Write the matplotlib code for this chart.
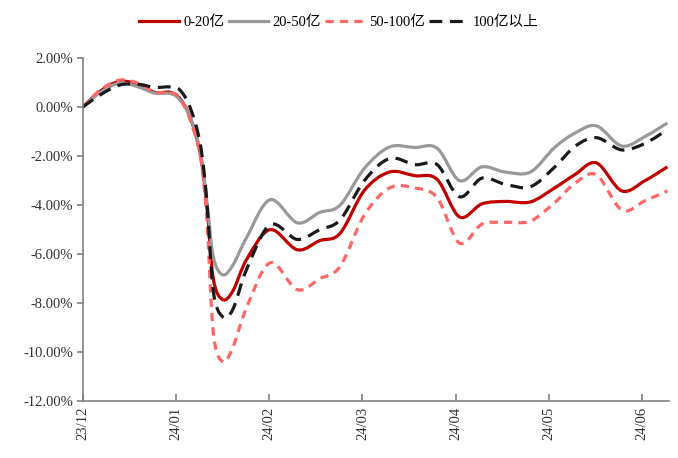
import matplotlib
matplotlib.use("Agg")
import matplotlib.pyplot as plt
from matplotlib.path import Path
from matplotlib.patches import PathPatch
from matplotlib.lines import Line2D
import numpy as np

plt.rcParams['font.family'] = ['Liberation Serif', 'Noto Sans CJK SC']

# x position in months after 23/12
t = [0.00, 0.19, 0.40, 0.61, 0.77, 0.94, 1.04, 1.15, 1.26, 1.33, 1.40, 1.50,
     1.61, 1.76, 2.01, 2.30, 2.54, 2.76, 3.02, 3.29, 3.56, 3.80, 4.04, 4.28, 4.53,
     4.80, 5.06, 5.28, 5.51, 5.78, 6.03, 6.27]

month_labels = ['23/12', '24/01', '24/02', '24/03', '24/04', '24/05', '24/06']

s_0_20 = [0, 0.65, 1.05, 0.90, 0.60, 0.60, 0.35, -0.40, -1.90, -4.00, -7.00, -7.85,
          -7.50, -6.20, -5.00, -5.82, -5.45, -5.15, -3.40, -2.65, -2.80, -2.95, -4.48, -3.95, -3.85,
          -3.87, -3.30, -2.75, -2.28, -3.42, -3.00, -2.44]
s_20_50 = [0, 0.60, 0.98, 0.80, 0.57, 0.55, 0.30, -0.40, -1.80, -3.80, -6.10, -6.84,
           -6.45, -5.30, -3.78, -4.72, -4.30, -4.00, -2.50, -1.63, -1.65, -1.68, -3.00, -2.44, -2.65,
           -2.65, -1.65, -1.06, -0.77, -1.59, -1.20, -0.65]
s_50_100 = [0, 0.70, 1.10, 0.95, 0.60, 0.60, 0.35, -0.50, -2.00, -4.50, -9.20, -10.38,
            -9.80, -8.15, -6.35, -7.45, -7.00, -6.50, -4.40, -3.30, -3.30, -3.70, -5.55, -4.78, -4.70,
            -4.65, -3.90, -3.10, -2.77, -4.20, -3.82, -3.42]
s_100 = [0, 0.50, 0.90, 0.92, 0.80, 0.82, 0.70, 0.00, -1.50, -3.80, -7.50, -8.55,
         -8.25, -6.60, -4.80, -5.40, -5.00, -4.60, -3.00, -2.10, -2.35, -2.35, -3.66, -2.90, -3.15,
         -3.25, -2.45, -1.60, -1.25, -1.75, -1.48, -0.92]

names = ['0-20亿', '20-50亿', '50-100亿', '100亿以上']


def smooth_path(x, y):
    # Catmull-Rom style bezier like Excel's smoothed line
    pts = np.column_stack([x, y])
    n = len(pts)
    verts = [pts[0]]
    codes = [Path.MOVETO]
    for i in range(n - 1):
        p0 = pts[max(i - 1, 0)]
        p1 = pts[i]
        p2 = pts[i + 1]
        p3 = pts[min(i + 2, n - 1)]
        c1 = p1 + (p2 - p0) / 6
        c2 = p2 - (p3 - p1) / 6
        verts += [c1, c2, p2]
        codes += [Path.CURVE4] * 3
    return Path(verts, codes)


fig = plt.figure(figsize=(6.78, 4.58), dpi=100)
ax = fig.add_axes([0.1220, 0.1238, 0.8652, 0.7496])

styles = [
    dict(color='#C00000', dashes=None),
    dict(color='#999999', dashes=None),
    dict(color='#FF6666', dashes=(2.6, 1.9)),
    dict(color='#1A1A1A', dashes=(4.0, 2.4)),
]
series = [s_0_20, s_20_50, s_50_100, s_100]
handles = []
for k in range(4):
    st = styles[k]
    ls = '-' if st['dashes'] is None else (0, st['dashes'])
    patch = PathPatch(smooth_path(t, series[k]), fill=False, edgecolor=st['color'],
                      linewidth=2.3, linestyle=ls, capstyle='butt', joinstyle='round')
    ax.add_patch(patch)
    handles.append(Line2D([0], [0], color=st['color'], lw=2.3, linestyle=ls))

ax.set_xlim(0, 6.29)
ax.set_ylim(-12, 2)
ax.set_yticks(np.arange(-12, 2.1, 2))
ax.set_yticklabels([f'{v:.2f}%' for v in np.arange(-12, 2.1, 2)], fontsize=10.5)
ax.set_xticks(range(len(month_labels)))
ax.set_xticklabels(month_labels, rotation=90, fontsize=10.5)

for side in ['top', 'right']:
    ax.spines[side].set_visible(False)
for side in ['left', 'bottom']:
    ax.spines[side].set_color('#808080')
    ax.spines[side].set_linewidth(1.2)
ax.tick_params(axis='both', direction='in', length=5, color='#808080', width=1.2, pad=4,
               labelcolor='#333333')
ax.tick_params(axis='y', direction='out', length=4, pad=3)

fig.legend(handles, names, loc='center', bbox_to_anchor=(0.50, 0.952), ncol=4, frameon=False,
           fontsize=10.5, handlelength=2.7, handletextpad=0.3, columnspacing=0.3)

fig.savefig('out.png', dpi=100)
